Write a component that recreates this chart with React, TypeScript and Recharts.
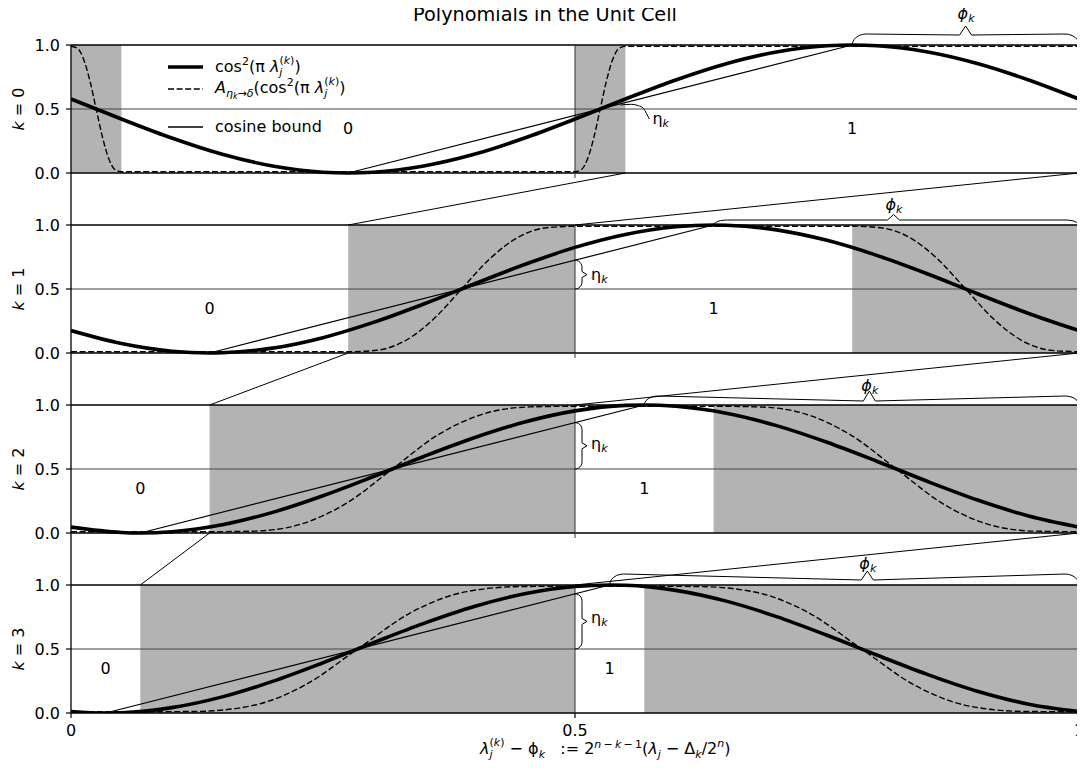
import React from 'react';
import {
  ComposedChart,
  Line,
  XAxis,
  YAxis,
  ReferenceArea,
  ReferenceLine,
  ReferenceDot,
  Legend,
} from 'recharts';

// ---------------- values ----------------
const panels = [0, 1, 2, 3];
const phi = [0.775, 0.6375, 0.56875, 0.534375];

const grayK0 = [[0, 0.05], [0.5, 0.55]];
const grayK1 = [[0.275, 0.5], [0.775, 1]];
const grayK2 = [[0.1375, 0.5], [0.6375, 1]];
const grayK3 = [[0.06875, 0.5], [0.56875, 1]];
const grayRegions = [grayK0, grayK1, grayK2, grayK3];

const zoomFrom = [0.55, 0.275, 0.1375];
const zoomTo = [0.275, 0.1375, 0.06875];

const etaX = [0.55, 0.5, 0.5, 0.5];
const etaTop = [0.55, 0.725, 0.8625, 0.93125];
const phiTip = [0.8875, 0.816, 0.792, 0.79];
const cellLabelY = 0.35;

const xTicks = [0, 0.5, 1];
const xTickLabels = ['0', '0.5', '1'];
const yTickLocal = [0, 0.5, 1];
const yTickLabels = ['0.0', '0.5', '1.0'];

// cos^2 curves (thick)
const cosX0 = [0, 0.05, 0.1, 0.15, 0.2, 0.25, 0.275, 0.3, 0.35, 0.4, 0.45, 0.5, 0.55, 0.6, 0.65, 0.7, 0.75, 0.775, 0.8, 0.85, 0.9, 0.95, 1];
const cosY0 = [0.578, 0.422, 0.273, 0.146, 0.055, 0.006, 0, 0.006, 0.055, 0.146, 0.273, 0.422, 0.578, 0.727, 0.854, 0.946, 0.994, 1, 0.994, 0.946, 0.854, 0.727, 0.578];
const cosX1 = [0, 0.05, 0.1, 0.1375, 0.15, 0.2, 0.25, 0.3, 0.35, 0.4, 0.45, 0.5, 0.55, 0.6, 0.6375, 0.65, 0.7, 0.75, 0.8, 0.85, 0.9, 0.95, 1];
const cosY1 = [0.175, 0.074, 0.014, 0, 0.002, 0.038, 0.12, 0.239, 0.383, 0.539, 0.691, 0.825, 0.926, 0.986, 1, 0.998, 0.962, 0.88, 0.761, 0.617, 0.461, 0.309, 0.175];
const cosX2 = [0, 0.05, 0.06875, 0.1, 0.15, 0.2, 0.25, 0.3, 0.35, 0.4, 0.45, 0.5, 0.55, 0.56875, 0.6, 0.65, 0.7, 0.75, 0.8, 0.85, 0.9, 0.95, 1];
const cosY2 = [0.046, 0.004, 0, 0.01, 0.064, 0.161, 0.291, 0.441, 0.598, 0.744, 0.867, 0.954, 0.997, 1, 0.99, 0.936, 0.839, 0.709, 0.559, 0.402, 0.256, 0.133, 0.046];
const cosX3 = [0, 0.034375, 0.05, 0.1, 0.15, 0.2, 0.25, 0.3, 0.35, 0.4, 0.45, 0.5, 0.534375, 0.55, 0.6, 0.65, 0.7, 0.75, 0.8, 0.85, 0.9, 0.95, 1];
const cosY3 = [0.012, 0, 0.002, 0.042, 0.126, 0.247, 0.393, 0.549, 0.7, 0.832, 0.931, 0.988, 1, 0.998, 0.958, 0.874, 0.753, 0.607, 0.451, 0.3, 0.168, 0.069, 0.012];

// polynomial approximation (dashed)
const dashX0 = [0, 0.00625, 0.0125, 0.01875, 0.025, 0.03125, 0.0375, 0.04375, 0.05, 0.5, 0.50625, 0.5125, 0.51875, 0.525, 0.53125, 0.5375, 0.54375, 0.55, 1];
const dashY0 = [0.99, 0.975, 0.889, 0.721, 0.5, 0.279, 0.111, 0.026, 0.01, 0.01, 0.026, 0.111, 0.279, 0.5, 0.721, 0.889, 0.975, 0.99, 0.99];
const dashX1 = [0, 0.275, 0.3031, 0.3313, 0.3594, 0.3875, 0.4156, 0.4438, 0.4719, 0.5, 0.775, 0.8031, 0.8313, 0.8594, 0.8875, 0.9156, 0.9438, 0.9719, 1];
const dashY1 = [0.01, 0.01, 0.021, 0.095, 0.263, 0.5, 0.737, 0.905, 0.979, 0.99, 0.99, 0.979, 0.905, 0.737, 0.5, 0.263, 0.095, 0.021, 0.01];
const dashX2 = [0, 0.1375, 0.1828, 0.2281, 0.2734, 0.3188, 0.3641, 0.4094, 0.4547, 0.5, 0.6375, 0.6828, 0.7281, 0.7734, 0.8188, 0.8641, 0.9094, 0.9547, 1];
const dashY2 = [0.01, 0.01, 0.015, 0.069, 0.233, 0.5, 0.767, 0.931, 0.985, 0.99, 0.99, 0.985, 0.931, 0.767, 0.5, 0.233, 0.069, 0.015, 0.01];
const dashX3 = [0, 0.0688, 0.1227, 0.1766, 0.2305, 0.2844, 0.3383, 0.3922, 0.4461, 0.5, 0.5688, 0.6227, 0.6766, 0.7305, 0.7844, 0.8383, 0.8922, 0.9461, 1];
const dashY3 = [0.01, 0.01, 0.012, 0.052, 0.211, 0.5, 0.789, 0.948, 0.988, 0.99, 0.99, 0.988, 0.948, 0.789, 0.5, 0.211, 0.052, 0.012, 0.01];

const cosXs = [cosX0, cosX1, cosX2, cosX3];
const cosYs = [cosY0, cosY1, cosY2, cosY3];
const dashXs = [dashX0, dashX1, dashX2, dashX3];
const dashYs = [dashY0, dashY1, dashY2, dashY3];

// ---------------- layout ----------------
const FONT = 'DejaVu Sans';
const CHART_W = 1077;
const CHART_H = 778;
const PERIOD = 1.40625; // panel height + gap, in panel units
const Y_MAX = 5.5;
const PX_X = 1 / 1008;
const PX_Y = 1 / 128;
const base = (k: number) => (3 - k) * PERIOD;

const braceArm = [11, 5, 9, 11];
const braceNeck = [10, 5, 4, 5];
const braceTipH = [19, 10.5, 14, 14];
const phiLabelUp = [26, 15.5, 14, 16];
const etaLabelDx = [27, 16, 16, 16];
const etaLabelDy = [18, 5, 3, 2];

const rows = (xs: number[], ys: number[], k: number) =>
  xs.map((x, i) => ({ x, y: base(k) + ys[i] }));

const yTicks = [3, 2, 1, 0].flatMap((k) => yTickLocal.map((v) => base(k) + v));

function hBrace(k: number) {
  const x1 = phi[k];
  const x2 = 1;
  const xt = phiTip[k];
  const y0 = base(k) + 1;
  const h1 = braceArm[k];
  const h2 = braceNeck[k];
  const h3 = braceTipH[k];
  const r = 14;
  const pts: { x: number; y: number }[] = [];
  for (let a = 0; a <= 90; a += 15) {
    const t = (a * Math.PI) / 180;
    pts.push({ x: x1 + r * (1 - Math.cos(t)) * PX_X, y: y0 + h1 * Math.sin(t) * PX_Y });
  }
  pts.push({ x: xt - 6 * PX_X, y: y0 + h2 * PX_Y });
  pts.push({ x: xt, y: y0 + h3 * PX_Y });
  pts.push({ x: xt + 6 * PX_X, y: y0 + h2 * PX_Y });
  for (let a = 90; a >= 0; a -= 15) {
    const t = (a * Math.PI) / 180;
    pts.push({ x: x2 - r * (1 - Math.cos(t)) * PX_X, y: y0 + h1 * Math.sin(t) * PX_Y });
  }
  return pts;
}

function vBrace(k: number) {
  const x0 = etaX[k];
  const y1 = base(k) + 0.5;
  const y2 = base(k) + etaTop[k];
  const pts: { x: number; y: number }[] = [];
  if (k === 0) {
    const offs = [[-5, 4], [6, 4.7], [13, 3.3], [18, 0.7], [21, -4.3], [24, -10]];
    offs.forEach(([dx, dy]) => pts.push({ x: x0 + dx * PX_X, y: y1 + dy * PX_Y }));
    return pts;
  }
  const ym = (y1 + y2) / 2;
  const w1 = 7;
  const w3 = 12;
  const r = 7;
  for (let a = 0; a <= 90; a += 15) {
    const t = (a * Math.PI) / 180;
    pts.push({ x: x0 + w1 * Math.sin(t) * PX_X, y: y1 + r * (1 - Math.cos(t)) * PX_Y });
  }
  pts.push({ x: x0 + w1 * PX_X, y: ym - 3 * PX_Y });
  pts.push({ x: x0 + w3 * PX_X, y: ym });
  pts.push({ x: x0 + w1 * PX_X, y: ym + 3 * PX_Y });
  for (let a = 90; a >= 0; a -= 15) {
    const t = (a * Math.PI) / 180;
    pts.push({ x: x0 + w1 * Math.sin(t) * PX_X, y: y2 - r * (1 - Math.cos(t)) * PX_Y });
  }
  return pts;
}

// ---------------- text pieces ----------------
const YTick = (props: any) => {
  const { x, y, payload } = props;
  const idx = yTicks.findIndex((t) => Math.abs(t - payload.value) < 1e-6);
  const k = 3 - Math.floor(idx / 3);
  return (
    <g>
      <text x={x} y={y} textAnchor="end" dominantBaseline="central" fontSize={16} fontFamily={FONT} fill="#000">
        {yTickLabels[idx % 3]}
      </text>
      {idx % 3 === 1 && (
        <text
          x={10}
          y={y}
          transform={`rotate(-90, 10, ${y})`}
          textAnchor="middle"
          dominantBaseline="central"
          fontSize={16}
          fontFamily={FONT}
          fill="#000"
          style={{ whiteSpace: 'pre' }}
        >
          <tspan fontStyle="italic">k</tspan>
          <tspan>{` = ${panels[k]}`}</tspan>
        </text>
      )}
    </g>
  );
};

const XLabel = () => (
  <text x={472} y={754} fontSize={16} fontFamily={FONT} fill="#000" style={{ whiteSpace: 'pre' }}>
    <tspan fontStyle="italic">λ</tspan>
    <tspan fontSize={11} fontStyle="italic" dy={4}>j</tspan>
    <tspan fontSize={11} dx={-3} dy={-12}>(</tspan>
    <tspan fontSize={11} fontStyle="italic">k</tspan>
    <tspan fontSize={11}>)</tspan>
    <tspan dy={8}>{' − ϕ'}</tspan>
    <tspan fontSize={11} fontStyle="italic" dy={4}>k</tspan>
    <tspan dy={-4}>{'   := 2'}</tspan>
    <tspan fontSize={11} fontStyle="italic" dy={-6}>n</tspan>
    <tspan fontSize={11}>{'\u2009−\u2009'}</tspan>
    <tspan fontSize={11} fontStyle="italic">k</tspan>
    <tspan fontSize={11}>{'\u2009−\u20091'}</tspan>
    <tspan dy={6}>(</tspan>
    <tspan fontStyle="italic">λ</tspan>
    <tspan fontSize={11} fontStyle="italic" dy={4}>j</tspan>
    <tspan dy={-4}>{' − Δ'}</tspan>
    <tspan fontSize={11} fontStyle="italic" dy={4}>k</tspan>
    <tspan dy={-4}>/2</tspan>
    <tspan fontSize={11} fontStyle="italic" dy={-7}>n</tspan>
    <tspan dy={7}>)</tspan>
  </text>
);

const LambdaJK = () => (
  <>
    <tspan fontStyle="italic">λ</tspan>
    <tspan fontSize={11} fontStyle="italic" dy={4}>j</tspan>
    <tspan fontSize={11} dx={-3} dy={-12}>(</tspan>
    <tspan fontSize={11} fontStyle="italic">k</tspan>
    <tspan fontSize={11}>)</tspan>
  </>
);

const LegendBox = () => (
  <svg width={230} height={95} fontFamily={FONT} style={{ display: 'block', overflow: 'visible' }}>
    <line x1={10} x2={45} y1={19} y2={19} stroke="#000" strokeWidth={3.6} />
    <line x1={10} x2={45} y1={41} y2={41} stroke="#000" strokeWidth={1.4} strokeDasharray="6 2.6" />
    <line x1={10} x2={45} y1={79} y2={79} stroke="#000" strokeWidth={1.3} />
    <text x={57} y={23.7} fontSize={16} fill="#000" style={{ whiteSpace: 'pre' }}>
      <tspan>cos</tspan>
      <tspan fontSize={11} dy={-7}>2</tspan>
      <tspan dy={7}>{'(π '}</tspan>
      <LambdaJK />
      <tspan dy={8}>)</tspan>
    </text>
    <text x={57} y={45.3} fontSize={16} fill="#000" style={{ whiteSpace: 'pre' }}>
      <tspan fontStyle="italic">A</tspan>
      <tspan fontSize={11} fontStyle="italic" dy={4}>η</tspan>
      <tspan fontSize={8} fontStyle="italic" dy={2}>k</tspan>
      <tspan fontSize={11} dy={-2}>→</tspan>
      <tspan fontSize={11} fontStyle="italic">δ</tspan>
      <tspan dy={-4}>(cos</tspan>
      <tspan fontSize={11} dy={-7}>2</tspan>
      <tspan dy={7}>{'(π '}</tspan>
      <LambdaJK />
      <tspan dy={8}>)</tspan>
    </text>
    <text x={57} y={83.7} fontSize={16} fill="#000">cosine bound</text>
  </svg>
);

const cellText = (label: string) => (p: any) => (
  <text x={p.cx} y={p.cy} textAnchor="middle" dominantBaseline="central" fontSize={16} fontFamily={FONT} fill="#000">
    {label}
  </text>
);

const phiText = (k: number) => (p: any) => (
  <text x={p.cx - 8} y={p.cy - phiLabelUp[k]} fontSize={16} fontFamily={FONT} fill="#000">
    <tspan fontStyle="italic">ϕ</tspan>
    <tspan fontSize={11} fontStyle="italic" dy={3}>k</tspan>
  </text>
);

const etaText = (k: number) => (p: any) => (
  <text x={p.cx + etaLabelDx[k]} y={p.cy + etaLabelDy[k]} fontSize={16} fontFamily={FONT} fill="#000">
    <tspan>η</tspan>
    <tspan fontSize={11} fontStyle="italic" dy={3}>k</tspan>
  </text>
);

export default function App() {
  return (
    <div style={{ position: 'relative', width: CHART_W, height: CHART_H, marginTop: -8 }}>
      <ComposedChart width={CHART_W} height={CHART_H} margin={{ top: 9, right: 6, left: 0, bottom: 35 }}>
        <XAxis
          dataKey="x"
          type="number"
          domain={[0, 1]}
          ticks={xTicks}
          interval={0}
          allowDataOverflow
          tickFormatter={(v: number) => xTickLabels[xTicks.indexOf(v)]}
          tickSize={5}
          tickMargin={7}
          axisLine={false}
          tickLine={{ stroke: '#000', strokeWidth: 1.2 }}
          tick={{ fill: '#000', fontSize: 16, fontFamily: FONT }}
          height={30}
          label={{ content: XLabel }}
        />
        <YAxis
          type="number"
          domain={[0, Y_MAX]}
          ticks={yTicks}
          interval={0}
          allowDataOverflow
          width={63}
          axisLine={false}
          tickSize={5}
          tickMargin={6}
          tickLine={{ stroke: '#000', strokeWidth: 1.2 }}
          tick={YTick}
        />

        {panels.flatMap((k) =>
          grayRegions[k].map(([a, b], i) => (
            <ReferenceArea
              key={`g${k}${i}`}
              x1={a}
              x2={b}
              y1={base(k)}
              y2={base(k) + 1}
              fill="#b3b3b3"
              fillOpacity={1}
              stroke="none"
              ifOverflow="visible"
            />
          ))
        )}

        {panels.flatMap((k) => [
          <ReferenceLine key={`h0${k}`} y={base(k)} stroke="#000" strokeWidth={1.3} />,
          <ReferenceLine key={`h5${k}`} y={base(k) + 0.5} stroke="#444" strokeWidth={1} />,
          <ReferenceLine key={`h1${k}`} y={base(k) + 1} stroke="#000" strokeWidth={1.3} />,
          <ReferenceLine
            key={`v5${k}`}
            segment={[{ x: 0.5, y: base(k) - (k < 3 ? 5 * PX_Y : 0) }, { x: 0.5, y: base(k) + 1 }]}
            stroke="#333"
            strokeWidth={1}
            ifOverflow="visible"
          />,
          <ReferenceLine
            key={`v1${k}`}
            segment={[{ x: 1, y: base(k) - (k < 3 ? 5 * PX_Y : 0) }, { x: 1, y: base(k) + 1 }]}
            stroke="#333"
            strokeWidth={1}
            ifOverflow="visible"
          />,
          <ReferenceLine
            key={`cb${k}`}
            segment={[{ x: phi[k] - 0.5, y: base(k) }, { x: phi[k], y: base(k) + 1 }]}
            stroke="#000"
            strokeWidth={1.2}
            ifOverflow="visible"
          />,
        ])}

        {zoomFrom.map((xf, k) => (
          <ReferenceLine
            key={`za${k}`}
            segment={[{ x: xf, y: base(k) }, { x: zoomTo[k], y: base(k + 1) + 1 }]}
            stroke="#000"
            strokeWidth={1}
            ifOverflow="visible"
          />
        ))}
        {zoomFrom.map((_, k) => (
          <ReferenceLine
            key={`zb${k}`}
            segment={[{ x: 1, y: base(k) }, { x: 0.5, y: base(k + 1) + 1 }]}
            stroke="#000"
            strokeWidth={1}
            ifOverflow="visible"
          />
        ))}

        <ReferenceLine
          segment={[{ x: 0, y: 0 }, { x: 0, y: base(0) + 1 }]}
          stroke="#000"
          strokeWidth={1.3}
          ifOverflow="visible"
        />

        {panels.map((k) => (
          <Line
            key={`d${k}`}
            data={rows(dashXs[k], dashYs[k], k)}
            dataKey="y"
            type="monotone"
            stroke="#000"
            strokeWidth={1.4}
            strokeDasharray="6 2.6"
            dot={false}
            activeDot={false}
            isAnimationActive={false}
          />
        ))}
        {panels.map((k) => (
          <Line
            key={`c${k}`}
            data={rows(cosXs[k], cosYs[k], k)}
            dataKey="y"
            type="monotone"
            stroke="#000"
            strokeWidth={3.6}
            dot={false}
            activeDot={false}
            isAnimationActive={false}
          />
        ))}
        {panels.map((k) => (
          <Line
            key={`pb${k}`}
            data={hBrace(k)}
            dataKey="y"
            type="linear"
            stroke="#000"
            strokeWidth={1}
            dot={false}
            activeDot={false}
            isAnimationActive={false}
          />
        ))}
        {panels.map((k) => (
          <Line
            key={`eb${k}`}
            data={vBrace(k)}
            dataKey="y"
            type={k === 0 ? 'monotone' : 'linear'}
            stroke="#000"
            strokeWidth={1}
            dot={false}
            activeDot={false}
            isAnimationActive={false}
          />
        ))}

        {panels.flatMap((k) => [
          <ReferenceDot key={`l0${k}`} x={phi[k] - 0.5} y={base(k) + cellLabelY} ifOverflow="visible" shape={cellText('0')} />,
          <ReferenceDot key={`l1${k}`} x={phi[k]} y={base(k) + cellLabelY} ifOverflow="visible" shape={cellText('1')} />,
          <ReferenceDot key={`lp${k}`} x={phiTip[k]} y={base(k) + 1} ifOverflow="visible" shape={phiText(k)} />,
          <ReferenceDot
            key={`le${k}`}
            x={etaX[k]}
            y={base(k) + (0.5 + etaTop[k]) / 2}
            ifOverflow="visible"
            shape={etaText(k)}
          />,
        ])}

        <Legend
          layout="vertical"
          align="center"
          verticalAlign="middle"
          content={LegendBox}
          wrapperStyle={{ left: 150, top: 48, width: 230, height: 95 }}
        />
      </ComposedChart>
      <svg
        width={CHART_W}
        height={30}
        style={{ position: 'absolute', left: 0, top: 0, pointerEvents: 'none' }}
      >
        <text x={537} y={21} textAnchor="middle" fontSize={19.3} fontFamily={FONT} fill="#000">
          Polynomials in the Unit Cell
        </text>
      </svg>
    </div>
  );
}
